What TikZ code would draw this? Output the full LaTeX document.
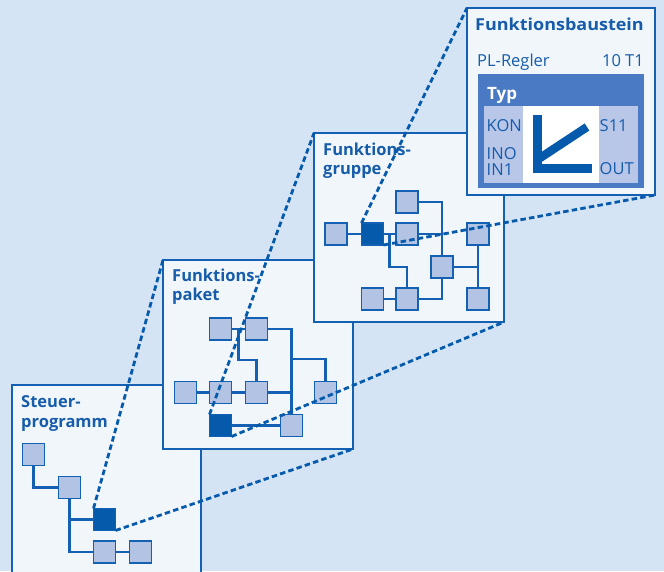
\documentclass[tikz,border=0pt]{standalone}
\usepackage{fontspec}
\setmainfont{Open Sans}
\usetikzlibrary{calc}
\definecolor{bgc}{RGB}{212,228,244}
\definecolor{pfill}{RGB}{241,246,251}
\definecolor{lblue}{RGB}{20,96,178}
\definecolor{dblue}{RGB}{6,90,172}
\definecolor{sqfill}{RGB}{178,195,228}
\definecolor{typc}{RGB}{74,122,196}
\definecolor{inlt}{RGB}{184,198,232}
\definecolor{tblue}{RGB}{22,92,170}
\begin{document}
\begin{tikzpicture}[x=1pt,y=-1pt,
  panel/.style={draw=lblue, fill=pfill, line width=1.3pt, anchor=north west, inner sep=0pt, outer sep=0pt},
  sq/.style={draw=lblue, fill=sqfill, line width=1.2pt, minimum size=22pt, inner sep=0pt, outer sep=0pt},
  dsq/.style={sq, fill=dblue},
  wire/.style={draw=lblue, line width=2.8pt},
  zoomline/.style={draw=dblue, line width=2.8pt, dash pattern=on 5.5pt off 3.2pt},
  ttl/.style={font=\fontsize{16.5}{19.5}\selectfont\bfseries, text=tblue, align=left, anchor=north west, inner sep=0pt},
  lbl/.style={font=\fontsize{16.5}{17}\selectfont, text=tblue, inner sep=0pt},
  blk/.style={anchor=north west, inner sep=0pt, outer sep=0pt}
]
\useasboundingbox (0,0) rectangle (664,571);
\fill[bgc] (0,0) rectangle (664,571);

% ---------- Panel 1 ----------
\node[panel, minimum width=189pt, minimum height=200pt] (P1) at (12,385) {};
\node[ttl] (t1) at (21,395.5) {Steuer-\\programm};
\node[sq] (s1) at (33.5,454.5) {};
\node[sq] (s2) at (69.5,487.5) {};
\node[dsq] (d1) at (104.5,519.5) {};
\node[sq] (s3) at (104.5,552) {};
\node[sq] (s4) at (140.5,552) {};
\draw[wire] (s1.south) |- (s2.west);
\draw[wire] (s2.south) |- (s3.west);
\draw[wire] (s2.south |- d1.west) -- (d1.west);
\draw[wire] (s3.east) -- (s4.west);

% ---------- Panel 2 ----------
\node[panel, minimum width=190pt, minimum height=189pt] (P2) at (163,260) {};
\node[ttl] (t2) at (172,268.5) {Funktions-\\paket};
\node[sq] (q1) at (220.5,329) {};
\node[sq] (q2) at (256.5,329) {};
\node[sq] (q3) at (185.5,392.5) {};
\node[sq] (q4) at (220.5,392.5) {};
\node[sq] (q5) at (256.5,392.5) {};
\node[sq] (q6) at (325.5,392.5) {};
\node[dsq] (d2) at (220.5,425.5) {};
\node[sq] (q7) at (291.5,425.5) {};
\coordinate (j2) at ($(q1.east)!0.5!(q2.west)$);
\coordinate (j2b) at (291.5,359);
\draw[wire] (q1.east) -- (q2.west);
\draw[wire] (j2) -- ++(0,31) -| (q5.north);
\draw[wire] (q2.east) -| (q7.north);
\draw[wire] (j2b) -| (q6.north);
\draw[wire] (q3.east) -- (q4.west);
\draw[wire] (q4.east) -- (q5.west);
\draw[wire] (q5.east) -- (q5.east -| q7.north);
\draw[wire] (d2.east) -- (q7.west);

% ---------- Panel 3 ----------
\node[panel, minimum width=190pt, minimum height=189pt] (P3) at (314,133) {};
\node[ttl] (t3) at (323,142.5) {Funktions-\\gruppe};
\node[sq] (a) at (336,234) {};
\node[dsq] (d3) at (372.5,234) {};
\node[sq] (b) at (407,234) {};
\node[sq] (c) at (407,202) {};
\node[sq] (dd) at (478,234) {};
\node[sq] (e) at (442,267) {};
\node[sq] (f) at (372.5,299) {};
\node[sq] (g) at (407,299) {};
\node[sq] (h) at (478,299) {};
\coordinate (j3) at ($(d3.east)!0.5!(b.west)$);
\draw[wire] (a.east) -- (d3.west);
\draw[wire] (d3.east) -- (b.west);
\draw[wire] (j3) -- ++(0,33) -| (g.north);
\draw[wire] (c.east) -| (e.north);
\draw[wire] (b.east) -- (b.east -| e.north);
\draw[wire] (f.east) -- (g.west);
\draw[wire] (g.east) -| (e.south);
\draw[wire] (dd.south) -- (h.north);
\draw[wire] (e.east) -- (e.east -| dd.south);

% ---------- Panel 4 ----------
\node[panel, minimum width=188pt, minimum height=187pt] (P4) at (467,8) {};
\node[ttl, font=\fontsize{16.5}{19.5}\selectfont\bfseries\addfontfeature{FakeStretch=1.09}] (t4) at (475,17.5) {Funktionsbaustein};
\node[lbl, anchor=base west] (pl) at (477,66.5) {PL-Regler};
\node[lbl, anchor=base east] (nr) at (644,66.5) {10 T1};
\node[blk, fill=typc, minimum width=166pt, minimum height=114pt] (typ) at (478,74) {};
\node[blk, fill=inlt, minimum width=154pt, minimum height=77pt] (inr) at (484,106) {};
\node[blk, fill=white, minimum width=76pt, minimum height=77pt] (wht) at (523,106) {};
\node[font=\fontsize{17}{18}\selectfont\bfseries, text=white, anchor=base west, inner sep=0pt] (tt) at (487,99) {Typ};
\node[lbl, anchor=base west] (kon) at (486.5,131) {KON};
\node[lbl, anchor=base west] (ino) at (486.5,159.5) {INO};
\node[lbl, anchor=base west] (in1) at (486.5,175.5) {IN1};
\node[lbl, anchor=base west] (s11) at (599.5,131) {S11};
\node[lbl, anchor=base west] (out) at (599.5,174) {OUT};
\draw[dblue, line width=9pt, miter limit=10] (537.5,115) -- (537.5,168) -- (592,168);
\draw[dblue, line width=8.5pt] (540,158) -- (587,127);

% ---------- zoom lines ----------
\draw[zoomline] (d1.north west) -- (P2.north west);
\draw[zoomline] (d1.south east) -- (P2.south east);
\draw[zoomline] (d2.north west) -- (P3.north west);
\draw[zoomline] (d2.south east) -- (P3.south east);
\draw[zoomline] (d3.north west) -- (P4.north west);
\draw[zoomline] (d3.south east) -- (P4.south east);
\end{tikzpicture}
\end{document}
